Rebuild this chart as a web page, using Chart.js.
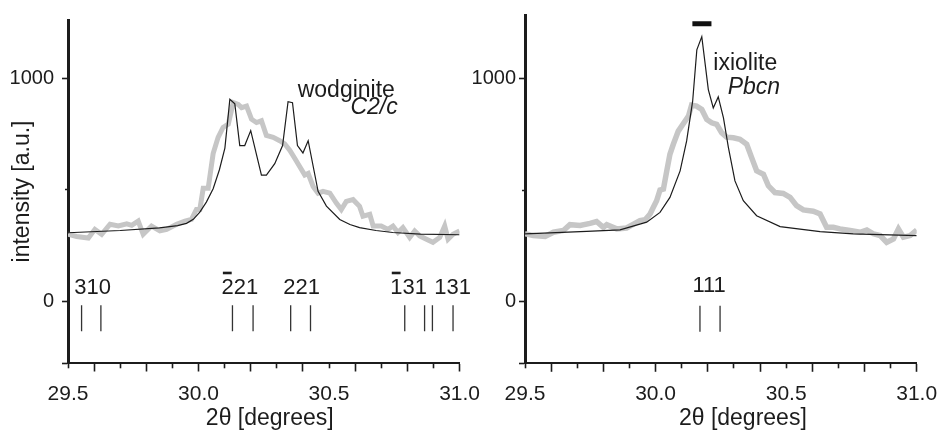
<!DOCTYPE html>
<html><head><meta charset="utf-8">
<script src="https://cdn.jsdelivr.net/npm/chart.js@4.4.1/dist/chart.umd.min.js"></script>
<style>
html,body{margin:0;padding:0;background:#fff;width:950px;height:440px;overflow:hidden}
canvas{position:absolute;top:0}
#c1{left:0} #c2{left:450px}
</style></head><body>
<canvas id="c1" width="490" height="440"></canvas>
<canvas id="c2" width="500" height="440"></canvas>
<script>
// ---------- data ----------
const xTickValues = [29.5,29.6,29.7,29.8,29.9,30.0,30.1,30.2,30.3,30.4,30.5,30.6,30.7,30.8,30.9,31.0];
const xLabelValues = [29.5,30.0,30.5,31.0];
const yTickValues = [0,500,1000];
const yLabelValues = [0,1000];

// wodginite panel: observed (grey) pattern
const obsLX = [29.500,29.533,29.578,29.603,29.629,29.661,29.693,29.725,29.744,29.769,29.788,29.820,29.852,29.878,29.916,29.948,29.973,29.992,30.005,30.018,30.037,30.056,30.075,30.094,30.114,30.133,30.152,30.165,30.184,30.203,30.222,30.241,30.260,30.286,30.311,30.330,30.350,30.369,30.388,30.407,30.420,30.439,30.458,30.477,30.503,30.528,30.547,30.566,30.592,30.617,30.630,30.656,30.669,30.700,30.726,30.745,30.764,30.783,30.809,30.828,30.847,30.873,30.898,30.924,30.943,30.956,30.975,31.000];
const obsLY = [301,291,284,323,301,346,338,348,341,360,301,338,316,323,346,360,368,412,412,507,507,662,735,779,794,890,882,868,875,816,801,809,743,735,720,706,676,640,603,566,573,515,485,493,485,441,412,448,456,426,382,390,338,338,323,338,309,331,287,316,294,279,265,287,338,279,301,316];
// wodginite panel: calculated (black) pattern
const calcLX = [29.500,29.700,29.850,29.920,29.954,29.980,30.005,30.030,30.056,30.080,30.101,30.120,30.139,30.158,30.177,30.200,30.241,30.260,30.292,30.322,30.343,30.360,30.379,30.400,30.420,30.458,30.490,30.541,30.580,30.617,30.680,30.744,30.850,31.000];
const calcLY = [308,318,330,340,350,368,400,445,505,590,687,905,885,698,698,765,566,566,617,698,894,890,698,665,720,493,427,367,345,331,318,309,302,299];
// wodginite reflections
const reflL = [29.552,29.626,30.130,30.209,30.353,30.429,30.790,30.866,30.896,30.975];
const hklLText = ['310','221','221','131','131'];
const hklLBar = [false,true,false,true,false];
const hklLPos = [29.594,30.158,30.395,30.805,30.973];

// ixiolite panel: observed (grey)
const obsRX = [29.500,29.532,29.577,29.609,29.647,29.672,29.711,29.749,29.774,29.800,29.813,29.851,29.889,29.921,29.940,29.960,29.979,29.991,30.004,30.017,30.030,30.043,30.055,30.068,30.087,30.106,30.126,30.138,30.157,30.177,30.196,30.215,30.234,30.253,30.272,30.298,30.323,30.349,30.368,30.387,30.413,30.432,30.457,30.489,30.515,30.540,30.566,30.604,30.630,30.655,30.681,30.706,30.745,30.783,30.809,30.834,30.860,30.885,30.911,30.930,30.949,30.975,31.000];
const obsRY = [305,297,293,312,320,346,342,352,360,334,346,327,331,352,364,368,394,423,453,501,505,587,661,706,765,798,832,881,877,862,817,802,795,758,738,735,728,706,646,587,572,520,490,486,468,431,412,406,394,334,334,327,320,312,322,305,297,267,282,327,290,297,322];
// ixiolite panel: calculated (black)
const calcRX = [29.500,29.736,29.864,29.966,30.017,30.055,30.094,30.119,30.142,30.158,30.177,30.202,30.221,30.240,30.260,30.279,30.304,30.336,30.387,30.477,30.630,30.757,31.000];
const calcRY = [305,316,323,357,401,468,587,721,899,1129,1188,951,869,918,824,691,542,453,386,337,315,305,297];
const reflR = [30.170,30.247];
const hklRText = ['111'];
const hklRBar = [false];
const hklRPos = [30.205];
// horizontal bar above ixiolite peak
const barRX = [30.141,30.214];
const barRY = 1246;

const reflY = -75;

// ---------- drawing ----------
const FONT = '"Liberation Sans", Arial, Helvetica, sans-serif';
const INK = '#1c1c1c';
const GREY = '#c6c6c6';
const pts = (xs, ys) => xs.map((v, i) => ({x: v, y: ys[i]}));
const isIn = (arr, v) => arr.some(a => Math.abs(a - v) < 1e-6);

const textPlugin = {
  id: 'phaseText',
  afterDatasetsDraw(chart, args, o) {
    const {ctx, scales: {x, y}, chartArea} = chart;
    ctx.save();
    ctx.fillStyle = INK;
    ctx.textBaseline = 'alphabetic';
    ctx.font = '22px ' + FONT;
    ctx.textAlign = 'center';
    o.hklText.forEach((t, i) => {
      const px = x.getPixelForValue(o.hklPos[i]);
      const py = y.getPixelForValue(o.hklY);
      ctx.fillText(t, px, py);
      if (o.hklBar[i]) {
        const w = ctx.measureText(t).width;
        const w1 = ctx.measureText(t[0]).width;
        const x0 = px - w / 2;
        ctx.fillRect(x0 + w1 * 0.12, py - 22.5, w1 * 0.72, 2.6);
      }
    });
    o.names.forEach(n => {
      ctx.font = (n.italic ? 'italic ' : '') + '23px ' + FONT;
      ctx.textAlign = n.align;
      ctx.fillText(n.text, x.getPixelForValue(n.x), y.getPixelForValue(n.y));
    });
    ctx.font = '23px ' + FONT;
    ctx.textAlign = 'center';
    ctx.textBaseline = 'middle';
    ctx.fillText(o.xTitle, (chartArea.left + chartArea.right) / 2 + o.xTitleShift, o.xTitleY);
    ctx.restore();
  }
};

function makeChart(id, c) {
  const datasets = [
    {data: pts(c.calcX, c.calcY), borderColor: INK, borderWidth: 1.2, pointRadius: 0, tension: 0, order: 0},
    {data: pts(c.obsX, c.obsY), borderColor: GREY, borderWidth: c.greyW, pointRadius: 0, tension: 0, order: 1},
    {type: 'scatter', data: c.refl.map(v => ({x: v, y: reflY})), pointStyle: 'line', pointRotation: 90,
     pointRadius: 13, pointBorderWidth: 1.3, pointBorderColor: '#333', showLine: false, order: 2}
  ];
  if (c.barX) datasets.push({data: c.barX.map(v => ({x: v, y: c.barY})), borderColor: '#111', borderWidth: 5,
     pointRadius: 0, borderCapStyle: 'butt', order: 0});
  return new Chart(document.getElementById(id), {
    type: 'line',
    data: {datasets},
    plugins: [textPlugin],
    options: {
      responsive: false, animation: false, events: [],
      layout: {padding: {left: 0, right: c.padR, top: c.padT, bottom: 0}},
      plugins: {
        legend: {display: false}, tooltip: {enabled: false},
        phaseText: {hklText: c.hklText, hklPos: c.hklPos, hklBar: c.hklBar, hklY: c.hklY,
          names: c.names, xTitle: '2\u03b8 [degrees]', xTitleShift: c.xTitleShift, xTitleY: 419}
      },
      scales: {
        x: {
          type: 'linear', min: 29.5, max: 31.0,
          afterFit: s => { s.height = c.xH; },
          afterBuildTicks: s => { s.ticks = xTickValues.map(v => ({value: v})); },
          border: {color: INK, width: 2},
          grid: {drawOnChartArea: false, tickLength: 8.5, tickColor: INK, tickWidth: 1.6,
            tickBorderDash: ctx => (Math.round(ctx.tick.value * 10) % 2 ? [4.3, 20] : [])},
          ticks: {autoSkip: false, maxRotation: 0, minRotation: 0, padding: 10, color: INK,
            font: {family: FONT, size: 21},
            callback: v => isIn(xLabelValues, v) ? v.toFixed(1) : ''}
        },
        y: {
          min: c.yMin, max: c.yMax,
          afterFit: s => { s.width = c.yW; },
          afterBuildTicks: s => { s.ticks = [s.min].concat(yTickValues).map(v => ({value: v})); },
          border: {color: INK, width: 3},
          grid: {drawOnChartArea: false, tickLength: 6, tickColor: INK, tickWidth: 1.6,
            tickBorderDash: ctx => (ctx.tick.value === 500 ? [3, 3] : []),
            tickBorderDashOffset: ctx => (ctx.tick.value === 500 ? 3 : 0)},
          ticks: {padding: c.yPad, color: INK, font: {family: FONT, size: 20},
            callback: v => isIn(yLabelValues, v) ? String(v) : ''},
          title: {display: !!c.yTitle, text: c.yTitle || '', color: INK,
            font: {family: FONT, size: 23}, padding: {top: 9, bottom: 0}}
        }
      }
    }
  });
}

makeChart('c1', {
  obsX: obsLX, obsY: obsLY, calcX: calcLX, calcY: calcLY, refl: reflL, greyW: 5,
  hklText: hklLText, hklPos: hklLPos, hklBar: hklLBar, hklY: 33,
  names: [{text: 'wodginite', x: 30.380, y: 916, align: 'left'},
          {text: 'C2/c', x: 30.763, y: 839, align: 'right', italic: true}],
  yMin: -275, yMax: 1260, yW: 68, yPad: 8, padR: 30, padT: 15, xH: 77, xTitleShift: 6,
  yTitle: 'intensity [a.u.]'
});
makeChart('c2', {
  obsX: obsRX, obsY: obsRY, calcX: calcRX, calcY: calcRY, refl: reflR, greyW: 5.5,
  hklText: hklRText, hklPos: hklRPos, hklBar: hklRBar, hklY: 44,
  barX: barRX, barY: barRY,
  names: [{text: 'ixiolite', x: 30.221, y: 1040, align: 'left'},
          {text: 'Pbcn', x: 30.477, y: 929, align: 'right', italic: true}],
  yMin: -275, yMax: 1285, yW: 75, yPad: 3, padR: 33.3, padT: 13.3, xH: 76.7, xTitleShift: 22,
  yTitle: ''
});
</script>
</body></html>
